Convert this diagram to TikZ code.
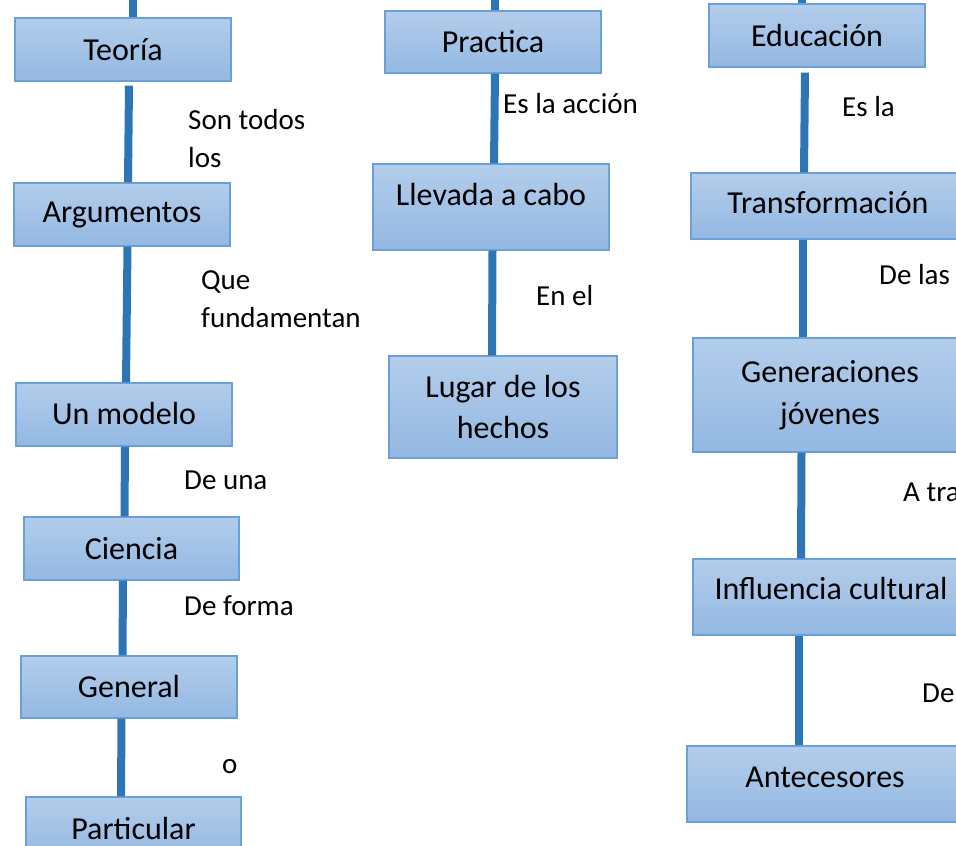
\documentclass[tikz,border=0pt]{standalone}
\usepackage{fontspec}
\setmainfont{Carlito}
\definecolor{linkblue}{RGB}{46,117,182}
\definecolor{boxtop}{RGB}{179,205,235}
\definecolor{boxbottom}{RGB}{147,184,226}
\definecolor{boxline}{RGB}{106,160,216}
\begin{document}
\begin{tikzpicture}[x = 1pt, y = -1pt,
  box/.style = {draw = boxline, line width = 1.2pt, top color = boxtop, bottom color = boxbottom,
    inner sep = 0pt, align = center, font = \fontsize{32}{41.5}\selectfont},
  onebox/.style = {box, text height = 21pt, text depth = 0pt},
  link/.style = {draw = linkblue, line width = 8pt},
  note/.style = {anchor = base west, align = left, inner sep = 0pt, font = \fontsize{29}{38}\selectfont}]
\useasboundingbox (0, 0) rectangle (956, 846);
\fill[white] (0, 0) rectangle (956, 846);
\clip (0, 0) rectangle (956, 846);
% left column
\node[onebox, minimum width = 216pt, minimum height = 63pt] (teoria) at (123, 49.5) {Teoría};
\node[onebox, minimum width = 216pt, minimum height = 63pt, text depth = 5pt] (argumentos) at (122, 214.5) {Argumentos};
\node[onebox, minimum width = 216pt, minimum height = 63pt, text depth = 2pt] (modelo) at (124, 414.5) {Un modelo};
\node[onebox, minimum width = 215pt, minimum height = 63pt] (ciencia) at (131.5, 548.5) {Ciencia};
\node[onebox, minimum width = 216pt, minimum height = 62pt, text depth = 1pt] (general) at (129, 687) {General};
\node[onebox, minimum width = 215pt, minimum height = 63pt] (particular) at (133.5, 828.5) {Particular};
% middle column
\node[onebox, minimum width = 216pt, minimum height = 62pt, text depth = 1pt] (practica) at (493, 42) {Practica};
\node[onebox, minimum width = 236pt, minimum height = 86pt, text depth = 25pt] (llevada) at (491, 207) {Llevada a cabo};
\node[box, minimum width = 228pt, minimum height = 102pt] (lugar) at (503, 407) {Lugar de los\\hechos};
% right column
\node[onebox, minimum width = 216pt, minimum height = 63pt] (educacion) at (817, 35.5) {Educación};
\node[onebox, minimum width = 274pt, minimum height = 66pt, text depth = 7pt] (transformacion) at (828, 206) {Transformación};
\node[box, minimum width = 274pt, minimum height = 114pt] (generaciones) at (830, 395) {Generaciones\\jóvenes};
\node[onebox, minimum width = 276pt, minimum height = 76pt, text depth = 17pt] (influencia) at (831, 597) {Influencia cultural};
\node[onebox, minimum width = 276pt, minimum height = 76pt, text depth = 15pt] (antecesores) at (825, 784) {Antecesores};
% connectors
\coordinate (teoriatop) at (133, -6);
\coordinate (practicatop) at (495, -6);
\coordinate (educaciontop) at (801.5, -6);
\draw[link] (teoriatop) -- ([xshift = 10pt]teoria.north);
\draw[link] ([xshift = 6pt, yshift = -4pt]teoria.south) -- ([xshift = 6pt]argumentos.north);
\draw[link] ([xshift = 5.5pt]argumentos.south) -- ([xshift = 2pt]modelo.north);
\draw[link] ([xshift = 1pt]modelo.south) -- ([xshift = -7pt]ciencia.north);
\draw[link] ([xshift = -8.5pt]ciencia.south) -- ([xshift = -6.5pt]general.north);
\draw[link] ([xshift = -7.5pt]general.south) -- ([xshift = -12.5pt]particular.north);
\draw[link] (practicatop) -- ([xshift = 2pt]practica.north);
\draw[link] ([xshift = 2pt]practica.south) -- ([xshift = 3pt]llevada.north);
\draw[link] ([xshift = 1.5pt]llevada.south) -- ([xshift = -11pt]lugar.north);
\draw[link] (educaciontop) -- ([xshift = -15.5pt]educacion.north);
\draw[link] ([xshift = -12pt, yshift = -5pt]educacion.south) -- ([xshift = -24pt]transformacion.north);
\draw[link] ([xshift = -25pt]transformacion.south) -- ([xshift = -27pt]generaciones.north);
\draw[link] ([xshift = -28.5pt]generaciones.south) -- ([xshift = -30pt]influencia.north);
\draw[link] ([xshift = -32pt]influencia.south) -- ([xshift = -26pt]antecesores.north);
% labels (base of a two-line note is its last line)
\node[note] (sontodos) at (188, 167) {Son todos\\los};
\node[note] (que) at (201, 327) {Que\\fundamentan};
\node[note] (deuna) at (184, 489) {De una};
\node[note] (deforma) at (184, 615) {De forma};
\node[note] (o) at (222, 773) {o};
\node[note] (eslaaccion) at (503, 113) {Es la acción};
\node[note] (enel) at (536, 305) {En el};
\node[note] (esla) at (842, 116) {Es la};
\node[note] (delas) at (879, 284) {De las};
\node[note] (atra) at (903, 501) {A través};
\node[note] (de) at (922, 702) {De};
\end{tikzpicture}
\end{document}
